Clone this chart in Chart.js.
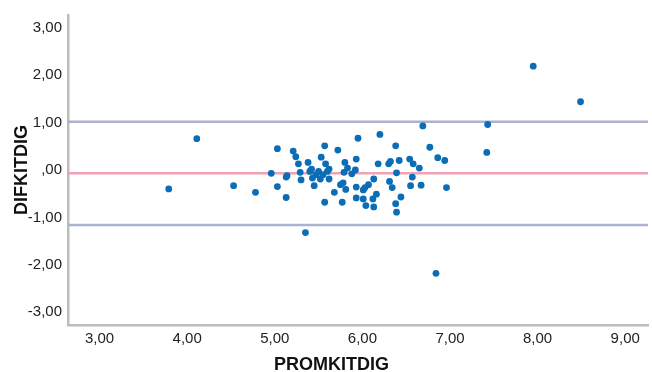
<!DOCTYPE html>
<html>
<head>
<meta charset="utf-8">
<script src="https://cdn.jsdelivr.net/npm/chart.js@4"></script>
<style>
  html, body { margin: 0; padding: 0; background: #fff; }
  #wrap { width: 652px; height: 372px; }
</style>
</head>
<body>
<div id="wrap"><canvas id="chart" width="652" height="372"></canvas></div>
<script>
// ——— DATA ———
const promKitDig = [
  3.79, 4.11, 4.53, 4.78, 4.96, 5.03, 5.03, 5.13, 5.14, 5.13,
  5.21, 5.24, 5.27, 5.29, 5.30, 5.38, 5.40, 5.42, 5.43, 5.45,
  5.47, 5.50, 5.52, 5.53, 5.57, 5.57, 5.55, 5.58, 5.60, 5.62,
  5.62, 5.72, 5.68, 5.75, 5.78, 5.77, 5.80, 5.79, 5.81, 5.83,
  5.88, 5.92, 5.93, 5.95, 5.93, 5.93, 6.01, 6.03, 6.01, 6.04,
  5.35, 6.20, 6.38, 6.69, 6.77, 6.86, 6.94, 6.18, 6.30, 6.32,
  6.42, 6.54, 6.58, 6.65, 6.39, 6.57, 6.55, 6.67, 6.96, 6.31,
  6.34, 6.13, 6.07, 6.16, 6.12, 6.13, 6.44, 6.38, 6.39, 7.95,
  8.49, 7.43, 7.42, 6.84
];
const difKitDig = [
  -0.40, 0.66, -0.33, -0.47, -0.07, 0.45, -0.35, -0.15, -0.12, -0.58,
  0.40, 0.28, 0.13, -0.05, -0.21, 0.16, -0.03, 0.02, -0.17, -0.33,
  -0.10, -0.03, -0.19, 0.27, 0.51, -0.68, -0.10, 0.13, -0.03, 0.02,
  -0.19, 0.42, -0.47, -0.31, -0.27, -0.68, 0.16, -0.05, -0.41, 0.04,
  -0.08, 0.00, 0.23, 0.67, -0.36, -0.59, -0.42, -0.37, -0.61, -0.75,
  -1.32, 0.75, 0.51, 0.93, 0.48, 0.26, 0.20, 0.13, 0.13, 0.18,
  0.20, 0.23, 0.13, 0.04, -0.06, -0.15, -0.33, -0.32, -0.37, -0.24,
  -0.37, -0.19, -0.31, -0.51, -0.61, -0.78, -0.57, -0.71, -0.89, 2.19,
  1.44, 0.96, 0.37, -2.18
];

// reference lines (mean difference and limits of agreement)
const meanDiff = -0.07;
const upperLimit = 1.02;
const lowerLimit = -1.16;

// axes
const xMin = 2.64, xMax = 9.26;
const yMin = -3.27, yMax = 3.27;
const xTicks = [3, 4, 5, 6, 7, 8, 9];
const yTicks = [-3, -2, -1, 0, 1, 2, 3];

// ——— HELPERS ———
function fmtComma(v) {
  // SPSS style: 0 shows as ",00"
  if (v === 0) return ',00';
  return v.toFixed(2).replace('.', ',');
}

function hLine(y, color) {
  return {
    type: 'line',
    data: [{ x: xMin, y }, { x: xMax, y }],
    borderColor: color,
    borderWidth: 2.5,
    pointRadius: 0,
    fill: false,
  };
}

const FONT = "'Liberation Sans', Arial, sans-serif";
const AXIS_GRAY = '#bdbdbd';

// ——— CHART ———
new Chart(document.getElementById('chart'), {
  type: 'scatter',
  data: {
    datasets: [
      {
        data: promKitDig.map((x, i) => ({ x, y: difKitDig[i] })),
        backgroundColor: '#0a6db5',
        borderWidth: 0,
        pointRadius: 3.4,
      },
      hLine(upperLimit, '#aab2ce'),
      hLine(meanDiff, '#f0a2b6'),
      hLine(lowerLimit, '#aab2ce'),
    ]
  },
  options: {
    responsive: false,
    animation: false,
    layout: { padding: { left: 13, right: 2, top: 12, bottom: 0 } },
    plugins: {
      legend: { display: false },
      tooltip: { enabled: false },
      title: {
        display: true,
        position: 'bottom',
        text: 'PROMKITDIG',
        color: '#111',
        font: { family: FONT, size: 18, weight: 'bold', lineHeight: 0.8 },
        padding: { top: 0, bottom: 0 },
      }
    },
    scales: {
      x: {
        type: 'linear',
        min: xMin, max: xMax,
        afterBuildTicks: axis => { axis.ticks = xTicks.map(v => ({ value: v })); },
        afterFit: axis => { axis.height = 32.6; },
        grid: { display: false, drawTicks: false },
        border: { display: true, color: AXIS_GRAY, width: 2.5 },
        ticks: {
          padding: 5,
          color: '#222',
          font: { family: FONT, size: 15 },
          callback: v => fmtComma(v),
        },
      },
      y: {
        type: 'linear',
        min: yMin, max: yMax,
        afterBuildTicks: axis => { axis.ticks = yTicks.map(v => ({ value: v })); },
        afterFit: axis => { axis.width = 55; },
        grid: { display: false, drawTicks: false },
        border: { display: true, color: AXIS_GRAY, width: 2.5 },
        title: {
          display: true,
          text: 'DIFKITDIG',
          color: '#111',
          font: { family: FONT, size: 18, weight: 'bold', lineHeight: 1 },
          padding: 0,
        },
        ticks: {
          padding: 6,
          color: '#222',
          font: { family: FONT, size: 15 },
          callback: v => fmtComma(v),
        },
      }
    }
  }
});
</script>
</body>
</html>
